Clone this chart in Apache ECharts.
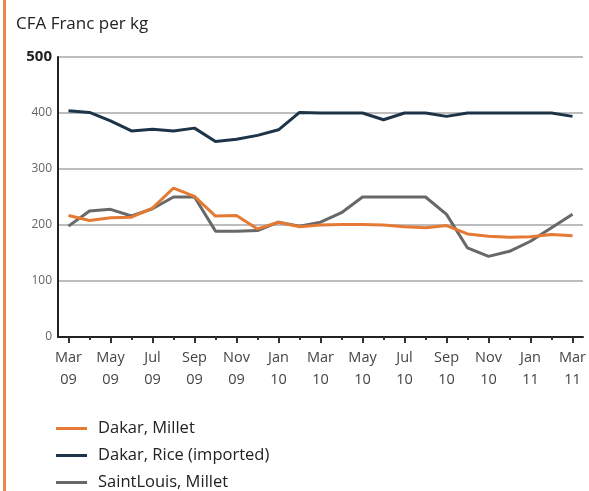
<!DOCTYPE html>
<html>
<head>
<meta charset="utf-8">
<script src="https://cdn.jsdelivr.net/npm/echarts@6/dist/echarts.min.js"></script>
<style>
html,body{margin:0;padding:0;background:#fff;}
#chart{width:589px;height:491px;}
</style>
</head>
<body>
<div id="chart"></div>
<script>
// months, Mar 09 .. Mar 11
var months = ['Mar\n09','Apr\n09','May\n09','Jun\n09','Jul\n09','Aug\n09','Sep\n09','Oct\n09','Nov\n09','Dec\n09',
	'Jan\n10','Feb\n10','Mar\n10','Apr\n10','May\n10','Jun\n10','Jul\n10','Aug\n10','Sep\n10','Oct\n10','Nov\n10','Dec\n10',
	'Jan\n11','Feb\n11','Mar\n11'];

var dakarMillet = [217,208,213,214,230,266,251,216,217,193,205,197,200,201,201,200,197,195,199,184,180,178,179,183,181];
var dakarRice = [404,401,386,368,371,368,373,349,353,360,370,401,400,400,400,388,400,400,394,400,400,400,400,400,394];
var stLouisMillet = [198,225,228,216,229,250,250,189,189,190,205,198,205,222,250,250,250,250,219,159,144,153,171,195,219];

var seriesNames = ['Dakar, Millet','Dakar, Rice (imported)','SaintLouis, Millet'];
var seriesColors = ['#e57a35','#1d3448','#686868'];

var myChart = echarts.init(document.getElementById('chart'));

var option = {
	animation:false,
	textStyle:{fontFamily:'Open Sans'},
	graphic:[
		{type:'rect',shape:{x:3,y:0,width:3,height:491},style:{fill:'#e8884c'}},
		{type:'text',left:16,top:16,style:{text:'CFA Franc per kg',font:'17px "Open Sans"',fill:'#222'}}
	],
	grid:{left:58,right:4,top:57,bottom:154},
	legend:{
		orient:'vertical',
		left:56,
		top:420,
		padding:0,
		icon:'rect',
		itemWidth:31,
		itemHeight:3,
		itemGap:10,
		data:seriesNames,
		textStyle:{fontSize:16.5,color:'#222',lineHeight:17,padding:[0,0,0,6]}
	},
	xAxis:[
		{
			type:'category',
			data:months,
			boundaryGap:true,
			axisLine:{lineStyle:{color:'#222',width:2}},
			axisTick:{show:true,alignWithLabel:true,interval:1,length:6,lineStyle:{color:'#333',width:2}},
			axisLabel:{interval:1,color:'#444',fontSize:14.5,lineHeight:22,margin:10}
		},
		{
			type:'category',
			data:months,
			position:'bottom',
			boundaryGap:true,
			axisLine:{show:false},
			axisTick:{show:true,alignWithLabel:true,interval:function(i){return i%2==1;},length:3,lineStyle:{color:'#333',width:2}},
			axisLabel:{show:false}
		}
	],
	yAxis:{
		type:'value',
		min:0,
		max:500,
		interval:100,
		axisLine:{show:true,lineStyle:{color:'#222',width:2}},
		axisTick:{show:false},
		splitLine:{lineStyle:{color:'#bdbdbd',width:2}},
		axisLabel:{
			margin:6,
			formatter:function(v){return v==500?'{big|500}':'{small|'+v+'}';},
			rich:{
				big:{fontSize:15,fontWeight:'bold',color:'#222'},
				small:{fontSize:12,color:'#666'}
			}
		}
	},
	series:[
		{name:seriesNames[0],type:'line',data:dakarMillet,symbol:'none',z:3,lineStyle:{color:seriesColors[0],width:3},itemStyle:{color:seriesColors[0]}},
		{name:seriesNames[1],type:'line',data:dakarRice,symbol:'none',z:3,lineStyle:{color:seriesColors[1],width:3},itemStyle:{color:seriesColors[1]}},
		{name:seriesNames[2],type:'line',data:stLouisMillet,symbol:'none',z:2,lineStyle:{color:seriesColors[2],width:3},itemStyle:{color:seriesColors[2]}}
	]
};
myChart.setOption(option);
</script>
</body>
</html>
